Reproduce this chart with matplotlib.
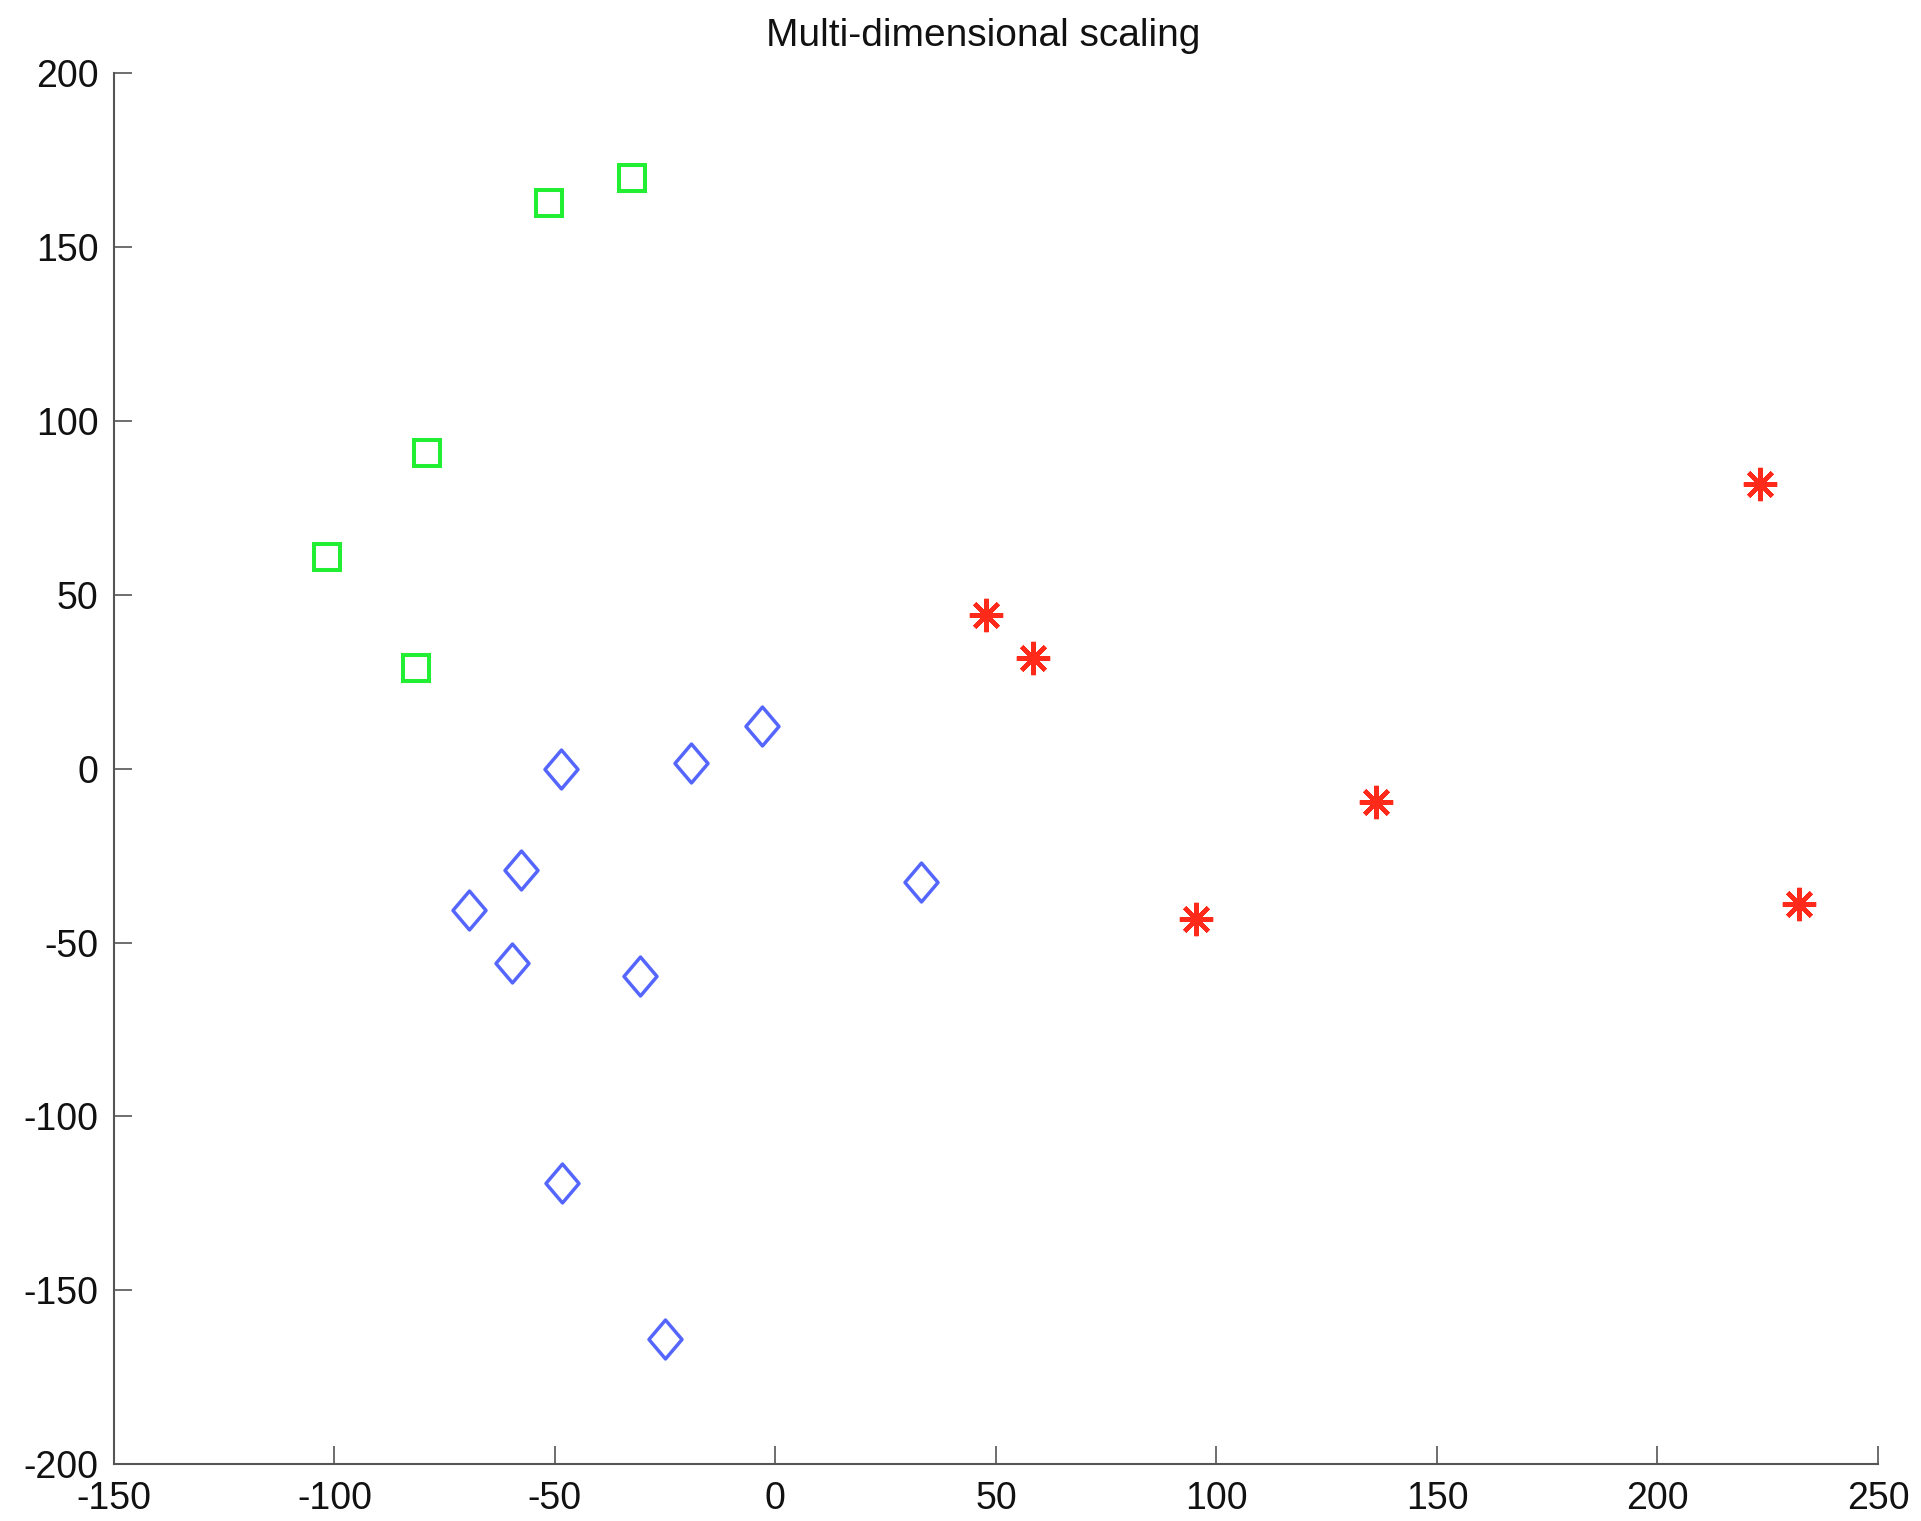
import matplotlib
matplotlib.use("Agg")
import matplotlib.pyplot as plt
from matplotlib.path import Path

plt.rcParams['font.family'] = ['Liberation Sans', 'DejaVu Sans']
plt.rcParams['axes.unicode_minus'] = False

# Group 1: green squares
sq_x = [-101.7, -78.9, -81.4, -51.4, -32.5]
sq_y = [60.8, 90.7, 29.1, 162.6, 170.0]

# Group 2: blue diamonds
dm_x = [-48.6, -19.2, -3.1, -57.8, -69.4, -59.7, -30.6, 33.1, -48.3, -25.0]
dm_y = [-0.2, 1.6, 12.2, -29.1, -40.7, -55.9, -59.7, -32.6, -119.3, -164.1]

# Group 3: red stars
st_x = [47.8, 58.3, 136.1, 95.3, 223.3, 232.2]
st_y = [44.2, 31.9, -9.7, -43.2, 81.9, -38.9]

x_ticks = [-150, -100, -50, 0, 50, 100, 150, 200, 250]
y_ticks = [-200, -150, -100, -50, 0, 50, 100, 150, 200]

fig = plt.figure(figsize=(19.21, 15.21), dpi=100)
ax = fig.add_axes([0.0593, 0.0375, 0.9183, 0.9142])

diamond = Path([(0, 1), (0.85, 0), (0, -1), (-0.85, 0), (0, 1)],
               [Path.MOVETO, Path.LINETO, Path.LINETO, Path.LINETO, Path.CLOSEPOLY])

ax.plot(sq_x, sq_y, linestyle='none', marker='s', markersize=19,
        markerfacecolor='none', markeredgecolor='#22ee33', markeredgewidth=2.9)
ax.plot(dm_x, dm_y, linestyle='none', marker=diamond, markersize=28,
        markerfacecolor='none', markeredgecolor='#5566ff', markeredgewidth=2.5)
ax.plot(st_x, st_y, linestyle='none', marker=(8, 2, 0), markersize=24,
        markeredgecolor='#ff2a1a', markeredgewidth=3.1)

ax.set_xlim(-150, 250)
ax.set_ylim(-200, 200)
ax.set_xticks(x_ticks)
ax.set_yticks(y_ticks)

for side in ('top', 'right'):
    ax.spines[side].set_visible(False)
for side in ('left', 'bottom'):
    ax.spines[side].set_color('#555555')
    ax.spines[side].set_linewidth(1.5)

ax.tick_params(direction='in', length=13, width=1.2, color='#555555',
               labelsize=27, labelcolor='#111111')
ax.tick_params(axis='x', pad=12)
ax.tick_params(axis='y', pad=11)

ax.set_title('Multi-dimensional scaling', fontsize=28, color='#111111', pad=20,
             x=0.493)

fig.savefig('out.png', dpi=100, facecolor='white')
